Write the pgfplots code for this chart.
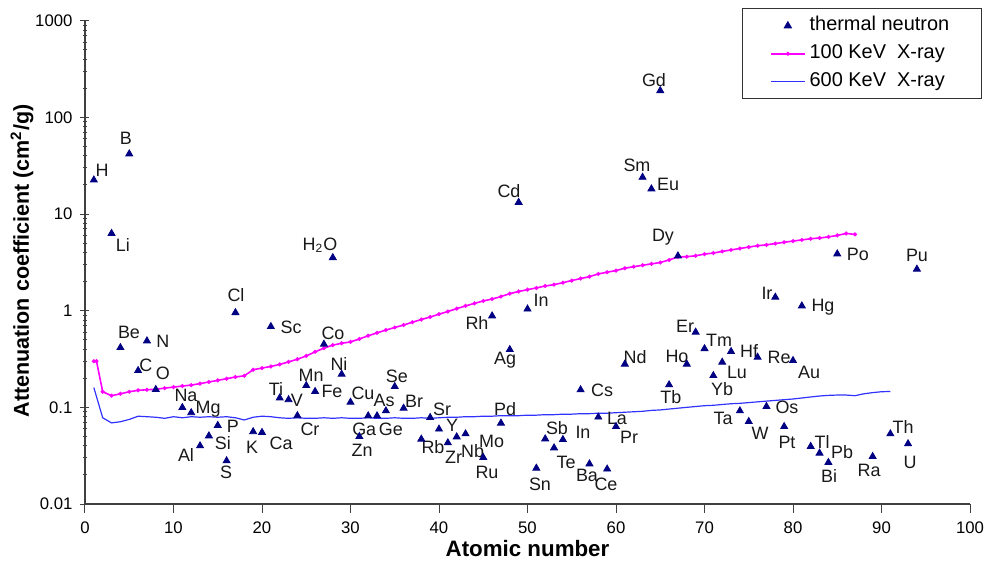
\documentclass[border=0pt]{standalone}
\usepackage{fontspec}
\setmainfont{Liberation Sans}
\usepackage{pgfplots}
\pgfplotsset{compat=1.18}
\definecolor{navy}{RGB}{0,0,130}
\definecolor{xmag}{RGB}{255,0,255}
\definecolor{xblue}{RGB}{50,50,255}
\begin{document}
\begin{tikzpicture}
\useasboundingbox (-42.5bp,-28.5bp) rectangle (450bp,252bp);
\begin{axis}[
  at={(0,0)}, anchor=south west,
  scale only axis, width=442.5bp, height=241.65bp,
  xmin=0, xmax=100, ymin=0.01, ymax=1000, ymode=log,
  axis x line*=bottom, axis y line*=left,
  axis line style={black!75, line width=0.6bp},
  xtick={0,10,...,100},
  ytick={0.01,0.1,1,10,100,1000},
  yticklabels={\mbox{0.01},\mbox{0.1},\mbox{1},\mbox{10},\mbox{100},\mbox{1000}},
  /pgf/number format/assume math mode=true,
  tick label style={font=\fontsize{8.4}{9}\selectfont},
  xtick align=outside, ytick align=center,
  major tick length=4.5bp, minor tick length=2.2bp,
  tick style={black!75, line width=0.5bp},
  xticklabel style={yshift=-1bp},
  yticklabel style={xshift=-0.5bp},
  clip=false,
  xlabel={\fontsize{11.2}{13}\selectfont\bfseries Atomic number},
  ylabel={\fontsize{10.8}{13}\selectfont\bfseries Attenuation coefficient (cm\textsuperscript{2}/g)},
  every axis x label/.style={at={(rel axis cs:0.5,-0.093)}, anchor=center},
  every axis y label/.style={at={(rel axis cs:-0.0712,0.503)}, rotate=90, anchor=center},
  legend cell align=left,
  legend style={at={(rel axis cs:1.0132,1.0257)}, anchor=north east,
    draw=black!80, line width=0.5bp, font=\fontsize{10}{11}\selectfont,
    inner xsep=14bp, inner ysep=1.5bp,
    nodes={inner ysep=2.4bp, text height=7.2bp, text depth=2bp}},
]
\addlegendimage{only marks, mark=triangle*, mark size=2bp, color=navy}
\addlegendentry{thermal neutron}
\addplot[color=xmag, line width=0.8bp, mark=*, mark size=0.55bp, mark options={fill=xmag}] coordinates {
(1,0.30)(1.3,0.30)(2,0.145)(3,0.132)(4,0.138)(5,0.145)(6,0.150)(7,0.152)(8,0.154)(9,0.158)(10,0.162)
(11,0.166)(12,0.170)(13,0.176)(14,0.183)(15,0.190)(16,0.198)(17,0.206)(18,0.212)(19,0.245)(20,0.255)
(21,0.265)(22,0.278)(23,0.295)(24,0.315)(25,0.340)(26,0.375)(27,0.41)(28,0.44)(29,0.46)(30,0.475)
(31,0.51)(32,0.55)(33,0.59)(34,0.63)(35,0.67)(36,0.71)(37,0.76)(38,0.81)(39,0.86)(40,0.92)
(41,0.98)(42,1.05)(43,1.12)(44,1.19)(45,1.26)(46,1.32)(47,1.40)(48,1.50)(49,1.58)(50,1.65)
(51,1.72)(52,1.80)(53,1.86)(54,1.95)(55,2.05)(56,2.15)(57,2.25)(58,2.40)(59,2.50)(60,2.60)
(61,2.75)(62,2.85)(63,2.95)(64,3.05)(65,3.15)(66,3.35)(67,3.60)(68,3.62)(69,3.70)(70,3.85)
(71,3.95)(72,4.10)(73,4.25)(74,4.40)(75,4.55)(76,4.70)(77,4.80)(78,4.95)(79,5.10)(80,5.25)
(81,5.40)(82,5.55)(83,5.65)(84,5.80)(85,6.00)(86,6.30)(87,6.15)};
\addlegendentry{100 KeV\ \ X-ray}
\addplot[color=xblue, line width=0.6bp, mark=none] coordinates {
(1,0.160)(2,0.078)(3,0.069)(4,0.071)(5,0.075)(6,0.081)(7,0.080)(8,0.079)(9,0.077)(10,0.080)
(11,0.078)(12,0.080)(13,0.079)(14,0.080)(15,0.079)(16,0.080)(17,0.078)(18,0.074)(19,0.079)(20,0.081)
(21,0.080)(22,0.078)(23,0.077)(24,0.078)(25,0.077)(26,0.077)(27,0.078)(28,0.077)(29,0.078)(30,0.077)
(31,0.077)(32,0.078)(33,0.077)(34,0.077)(35,0.078)(36,0.077)(37,0.077)(38,0.078)(39,0.077)(40,0.078)
(41,0.079)(42,0.079)(43,0.080)(44,0.080)(45,0.081)(46,0.081)(47,0.082)(48,0.082)(49,0.082)(50,0.083)
(51,0.083)(52,0.084)(53,0.084)(54,0.085)(55,0.085)(56,0.086)(57,0.086)(58,0.087)(59,0.087)(60,0.088)
(61,0.089)(62,0.090)(63,0.091)(64,0.093)(65,0.094)(66,0.096)(67,0.098)(68,0.100)(69,0.102)(70,0.104)
(71,0.105)(72,0.107)(73,0.109)(74,0.110)(75,0.112)(76,0.114)(77,0.116)(78,0.118)(79,0.120)(80,0.122)
(81,0.125)(82,0.128)(83,0.131)(84,0.133)(85,0.134)(86,0.134)(87,0.132)(88,0.138)(89,0.142)(90,0.145)(91,0.146)};
\addlegendentry{600 KeV\ \ X-ray}
\addplot[only marks, mark=triangle*, mark size=2bp, color=navy, forget plot] coordinates {
(1,22.5)(3,6.3)(4,0.415)(5,41.9)(6,0.24)(7,0.487)(8,0.153)(11,0.0995)(12,0.088)(13,0.040)
(14,0.0507)(15,0.065)(16,0.028)(17,0.955)(19,0.056)(20,0.055)(21,0.685)(22,0.125)(23,0.12)(24,0.082)
(25,0.168)(26,0.146)(27,0.45)(28,3.54)(29,0.22)(30,0.113)(31,0.0499)(32,0.0817)(33,0.0817)(34,0.092)
(35,0.164)(36,0.098)(38,0.0469)(39,0.0785)(40,0.0596)(41,0.043)(42,0.0495)(43,0.0532)(45,0.0303)(46,0.883)
(47,0.0687)(48,0.396)(49,13.2)(50,1.04)(51,0.0235)(52,0.0472)(53,0.0381)(54,0.0464)(56,0.152)(57,0.026)
(58,0.0793)(59,0.023)(60,0.0633)(61,0.28)(63,24.0)(64,18.2)(65,189)(66,0.171)(67,3.69)(68,0.28)
(69,0.6)(70,0.405)(71,0.213)(72,0.293)(73,0.378)(74,0.092)(75,0.0713)(76,0.33)(77,0.102)(78,1.38)
(79,0.0633)(80,0.305)(81,1.12)(82,0.0394)(83,0.0336)(84,0.0269)(85,3.87)(89,0.031)(91,0.0532)(93,0.042)(94,2.69)};
\begin{scope}[every node/.style={font=\fontsize{9}{10}\selectfont, inner sep=0pt, text=black!90}]
\node at (rel axis cs:0.0192,0.691) {H};
\node at (rel axis cs:0.0463,0.757) {B};
\node at (rel axis cs:0.0429,0.536) {Li};
\node at (rel axis cs:0.0497,0.354) {Be};
\node at (rel axis cs:0.0881,0.337) {N};
\node at (rel axis cs:0.0689,0.286) {C};
\node at (rel axis cs:0.0881,0.271) {O};
\node at (rel axis cs:0.1141,0.2255) {Na};
\node at (rel axis cs:0.139,0.1966) {Mg};
\node at (rel axis cs:0.1672,0.1614) {P};
\node at (rel axis cs:0.1559,0.1262) {Si};
\node at (rel axis cs:0.1141,0.1014) {Al};
\node at (rel axis cs:0.1593,0.0662) {S};
\node at (rel axis cs:0.1887,0.1179) {K};
\node at (rel axis cs:0.2215,0.1262) {Ca};
\node at (rel axis cs:0.1706,0.4324) {Cl};
\node at (rel axis cs:0.2328,0.3662) {Sc};
\node at (rel axis cs:0.2158,0.2379) {Ti};
\node at (rel axis cs:0.2395,0.2152) {V};
\node at (rel axis cs:0.2554,0.2669) {Mn};
\node at (rel axis cs:0.2791,0.2338) {Fe};
\node at (rel axis cs:0.2542,0.1552) {Cr};
\node at (rel axis cs:0.2802,0.3538) {Co};
\node at (rel axis cs:0.287,0.2897) {Ni};
\node at (rel axis cs:0.2655,0.5359) {H\textsubscript{2}O};
\node at (rel axis cs:0.3141,0.2297) {Cu};
\node at (rel axis cs:0.3379,0.2152) {As};
\node at (rel axis cs:0.3525,0.2648) {Se};
\node at (rel axis cs:0.3718,0.2131) {Br};
\node at (rel axis cs:0.3155,0.1552) {Ga};
\node at (rel axis cs:0.3456,0.1552) {Ge};
\node at (rel axis cs:0.313,0.1117) {Zn};
\node at (rel axis cs:0.4034,0.1966) {Sr};
\node at (rel axis cs:0.3932,0.1179) {Rb};
\node at (rel axis cs:0.4147,0.1635) {Y};
\node at (rel axis cs:0.4165,0.0972) {Zr};
\node at (rel axis cs:0.4380,0.1097) {Nb};
\node at (rel axis cs:0.4595,0.1304) {Mo};
\node at (rel axis cs:0.4542,0.0662) {Ru};
\node at (rel axis cs:0.4429,0.3745) {Rh};
\node at (rel axis cs:0.4746,0.1966) {Pd};
\node at (rel axis cs:0.4746,0.298) {Ag};
\node at (rel axis cs:0.5153,0.4221) {In};
\node at (rel axis cs:0.4791,0.6476) {Cd};
\node at (rel axis cs:0.5141,0.0414) {Sn};
\node at (rel axis cs:0.5333,0.1573) {Sb};
\node at (rel axis cs:0.5435,0.0869) {Te};
\node at (rel axis cs:0.5627,0.149) {In};
\node at (rel axis cs:0.5842,0.2359) {Cs};
\node at (rel axis cs:0.5672,0.06) {Ba};
\node at (rel axis cs:0.5887,0.0414) {Ce};
\node at (rel axis cs:0.6011,0.1779) {La};
\node at (rel axis cs:0.6147,0.1386) {Pr};
\node at (rel axis cs:0.6215,0.3042) {Nd};
\node at (rel axis cs:0.6237,0.7014) {Sm};
\node at (rel axis cs:0.6588,0.6621) {Eu};
\node at (rel axis cs:0.6429,0.8773) {Gd};
\node at (rel axis cs:0.6531,0.5525) {Dy};
\node at (rel axis cs:0.8734,0.5173) {Po};
\node at (rel axis cs:0.9401,0.5152) {Pu};
\node at (rel axis cs:0.6621,0.2214) {Tb};
\node at (rel axis cs:0.6689,0.3062) {Ho};
\node at (rel axis cs:0.678,0.3683) {Er};
\node at (rel axis cs:0.7164,0.3393) {Tm};
\node at (rel axis cs:0.7503,0.3166) {Hf};
\node at (rel axis cs:0.7367,0.2731) {Lu};
\node at (rel axis cs:0.7198,0.2379) {Yb};
\node at (rel axis cs:0.7842,0.3042) {Re};
\node at (rel axis cs:0.8181,0.2731) {Au};
\node at (rel axis cs:0.7706,0.4366) {Ir};
\node at (rel axis cs:0.8339,0.4076) {Hg};
\node at (rel axis cs:0.7932,0.2007) {Os};
\node at (rel axis cs:0.7209,0.1779) {Ta};
\node at (rel axis cs:0.7627,0.1469) {W};
\node at (rel axis cs:0.7932,0.1283) {Pt};
\node at (rel axis cs:0.8328,0.1283) {Tl};
\node at (rel axis cs:0.8554,0.1076) {Pb};
\node at (rel axis cs:0.8407,0.0579) {Bi};
\node at (rel axis cs:0.8859,0.0703) {Ra};
\node at (rel axis cs:0.9243,0.1593) {Th};
\node at (rel axis cs:0.9322,0.0869) {U};
\end{scope}
\end{axis}
\end{tikzpicture}
\end{document}
